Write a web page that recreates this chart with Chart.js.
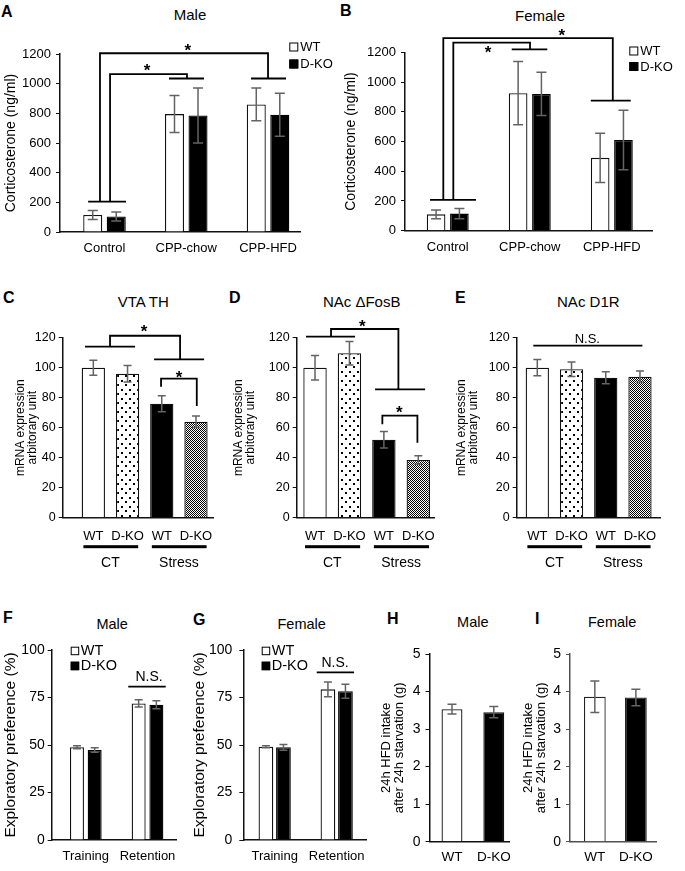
<!DOCTYPE html>
<html><head><meta charset="utf-8">
<script src="https://cdn.jsdelivr.net/npm/chart.js@4.4.1/dist/chart.umd.min.js"></script>
<style>
html,body{margin:0;padding:0;background:#fff}
body{position:relative;width:685px;height:871px;overflow:hidden;font-family:"Liberation Sans",Arial,sans-serif;color:#000}
canvas{position:absolute}
.ttl{position:absolute;transform:translateX(-50%);white-space:nowrap;line-height:17px;font-size:15px;font-weight:normal}
.sm{font-size:14.5px}
.lt{position:absolute;font-weight:bold;font-size:16px;line-height:18px}
</style></head><body>
<div class="lt" style="left:1px;top:2.6px">A</div>
<div class="lt" style="left:340px;top:2px">B</div>
<div class="lt" style="left:3px;top:289.3px">C</div>
<div class="lt" style="left:229px;top:289.3px">D</div>
<div class="lt" style="left:455px;top:289.3px">E</div>
<div class="lt" style="left:3px;top:609.3px">F</div>
<div class="lt" style="left:193px;top:611px">G</div>
<div class="lt" style="left:387px;top:610.3px">H</div>
<div class="lt" style="left:535px;top:610.3px">I</div>
<div class="ttl" style="left:190px;top:5.7px">Male</div>
<div class="ttl" style="left:540px;top:7px">Female</div>
<div class="ttl" style="left:143.3px;top:292.7px">VTA TH</div>
<div class="ttl" style="left:361.7px;top:292.7px">NAc ΔFosB</div>
<div class="ttl" style="left:588.3px;top:292.7px">NAc D1R</div>
<div class="ttl sm" style="left:112.2px;top:616.3px">Male</div>
<div class="ttl sm" style="left:301.7px;top:616.3px">Female</div>
<div class="ttl sm" style="left:472.8px;top:614.3px">Male</div>
<div class="ttl sm" style="left:612.2px;top:614.3px">Female</div>
<script>
// ---------- data ----------
const corticoCats = ['Control', 'CPP-chow', 'CPP-HFD'];
const seriesNames = ['WT', 'D-KO'];
const maleWT = [115, 795, 860];
const maleWTErr = [30, 125, 110];
const maleKO = [105, 785, 790];
const maleKOErr = [30, 185, 145];
const femWT = [110, 925, 490];
const femWTErr = [30, 213, 165];
const femKO = [115, 920, 610];
const femKOErr = [35, 145, 200];
const corticoTicksMax = 1200;

const mrnaCats = ['WT', 'D-KO', 'WT', 'D-KO'];
const mrnaGroups = ['CT', 'Stress'];
const thVals = [100, 96, 76, 64];
const thErr = [5, 5.5, 5.3, 3.8];
const fosbVals = [100, 109.6, 52, 38.5];
const fosbErr = [8.2, 7.8, 5.5, 2.8];
const d1rVals = [100, 99, 93.3, 94];
const d1rErr = [5.4, 4.8, 4, 3.8];

const prefCats = ['Training', 'Retention'];
const prefMaleWT = [48.8, 71.9];
const prefMaleWTErr = [0.8, 1.9];
const prefMaleKO = [47.4, 71.2];
const prefMaleKOErr = [1.2, 2.1];
const prefFemWT = [49.1, 79.3];
const prefFemWTErr = [0.5, 3.9];
const prefFemKO = [48.8, 78.3];
const prefFemKOErr = [1.5, 3.7];

const intakeCats = ['WT', 'D-KO'];
const intakeMale = [3.53, 3.45];
const intakeMaleErr = [0.13, 0.15];
const intakeFem = [3.86, 3.84];
const intakeFemErr = [0.42, 0.22];

// ---------- helpers ----------
const FONT = '"Liberation Sans", Arial, sans-serif';
const pts = vals => vals.map((v, i) => ({x: i + 1, y: v}));

function makePattern(kind) {
  const c = document.createElement('canvas');
  const g = c.getContext('2d');
  if (kind === 'dots') {
    c.width = 8; c.height = 9;
    g.fillStyle = '#fff'; g.fillRect(0, 0, 8, 9);
    g.fillStyle = '#000'; g.fillRect(1, 1, 2, 2); g.fillRect(5, 5, 2, 2);
  } else {
    c.width = 2; c.height = 2;
    g.fillStyle = '#fff'; g.fillRect(0, 0, 2, 2);
    g.fillStyle = '#000'; g.fillRect(0, 0, 1, 1); g.fillRect(1, 1, 1, 1);
  }
  return g.createPattern(c, 'repeat');
}
const dotPat = makePattern('dots');
const checkPat = makePattern('check');

const errorBars = {
  id: 'errorBars',
  afterDatasetsDraw(chart, args, o) {
    const ctx = chart.ctx, Y = chart.scales.y;
    ctx.save();
    ctx.strokeStyle = o.color || '#636363';
    ctx.lineWidth = o.width || 1.5;
    chart.data.datasets.forEach((ds, di) => {
      if (!ds.errors) return;
      chart.getDatasetMeta(di).data.forEach((el, i) => {
        const v = ds.data[i].y, e = ds.errors[i];
        const x = el.x, t = Y.getPixelForValue(v + e), b = Y.getPixelForValue(v - e);
        const h = (o.cap || 8) / 2;
        ctx.beginPath();
        ctx.moveTo(x, t); ctx.lineTo(x, b);
        ctx.moveTo(x - h, t); ctx.lineTo(x + h, t);
        ctx.moveTo(x - h, b); ctx.lineTo(x + h, b);
        ctx.stroke();
      });
    });
    ctx.restore();
  }
};

const sig = {
  id: 'sig',
  afterDatasetsDraw(chart, args, o) {
    const X = chart.scales.x, Y = chart.scales.y, ctx = chart.ctx;
    ctx.save();
    ctx.strokeStyle = '#000';
    ctx.lineWidth = o.lw || 1.8;
    ctx.lineJoin = 'miter'; ctx.lineCap = 'butt';
    (o.lines || []).forEach(p => {
      ctx.beginPath();
      p.forEach(([a, b], k) => {
        const px = X.getPixelForValue(a), py = Y.getPixelForValue(b);
        if (k) ctx.lineTo(px, py); else ctx.moveTo(px, py);
      });
      ctx.stroke();
    });
    (o.marks || []).forEach(m => {
      ctx.font = m.font;
      ctx.fillStyle = '#000';
      ctx.textAlign = 'center';
      ctx.textBaseline = 'middle';
      ctx.fillText(m.text, X.getPixelForValue(m.x), Y.getPixelForValue(m.y) + (m.dy || 0));
    });
    ctx.restore();
  }
};

const boxLegend = {
  id: 'boxLegend',
  afterDraw(chart, args, o) {
    if (o.x === undefined) return;
    const ctx = chart.ctx;
    ctx.save();
    chart.data.datasets.forEach((ds, i) => {
      const bx = o.x, by = o.y + i * o.row;
      ctx.fillStyle = ds.backgroundColor;
      ctx.fillRect(bx, by, o.box, o.box);
      ctx.strokeStyle = '#000'; ctx.lineWidth = 1;
      ctx.strokeRect(bx + 0.5, by + 0.5, o.box - 1, o.box - 1);
      ctx.fillStyle = '#000';
      ctx.font = o.font;
      ctx.textBaseline = 'middle'; ctx.textAlign = 'left';
      ctx.fillText(ds.label, bx + o.box + o.gap, by + o.box / 2 + 0.5);
    });
    ctx.restore();
  }
};

const groupAxis = {
  id: 'groupAxis',
  afterDraw(chart, args, o) {
    if (!o.groups) return;
    const X = chart.scales.x, ctx = chart.ctx, B = chart.chartArea.bottom;
    ctx.save();
    o.groups.forEach(g => {
      const a = X.getPixelForValue(g.from - o.ext[0]);
      const b = X.getPixelForValue(g.to + o.ext[1]);
      ctx.fillStyle = '#000';
      ctx.fillRect(a, B + o.lineOff, b - a, o.lineW);
      ctx.font = o.font;
      ctx.textAlign = 'center'; ctx.textBaseline = 'middle';
      ctx.fillText(g.label, (X.getPixelForValue(g.from) + X.getPixelForValue(g.to)) / 2, B + o.labelOff);
    });
    ctx.restore();
  }
};

function build(P) {
  const [cx, cy, cw, ch] = P.rect;
  const lh = P.yTitle.size * P.yTitle.lh;
  const padLeft = P.yTitle.x - cx - lh / 2;
  const yW = P.area.L - cx - padLeft;
  const padTop = P.area.T - cy;
  const padRight = cx + cw - P.area.R;
  const xH = cy + ch - P.area.B;
  const cv = document.createElement('canvas');
  cv.width = cw; cv.height = ch;
  cv.style.left = cx + 'px'; cv.style.top = cy + 'px';
  cv.style.width = cw + 'px'; cv.style.height = ch + 'px';
  document.body.appendChild(cv);
  const f = (s, w) => ({family: FONT, size: s, weight: w || 'normal', lineHeight: 1.2});
  const axisColor = P.axisColor || '#111';
  const legendOpt = P.legend ? Object.assign({}, P.legend, {x: P.legend.px - cx, y: P.legend.py - cy}) : {};
  new Chart(cv, {
    type: 'bar',
    data: {datasets: P.datasets},
    options: {
      responsive: false, animation: false, events: [],
      layout: {padding: {left: padLeft, top: padTop, right: padRight, bottom: 0}},
      scales: {
        x: {
          type: 'linear', min: P.xMin, max: P.xMax, bounds: 'data', offset: false,
          afterBuildTicks: ax => { ax.ticks = P.cats.map((c, i) => ({value: i + 1})); },
          ticks: {autoSkip: false, maxRotation: 0, minRotation: 0, padding: P.xPad,
                  font: f(P.xSize), color: '#000',
                  callback: v => P.cats[Math.round(v) - 1]},
          grid: {display: false, drawTicks: false, tickLength: 0},
          border: {display: true, color: axisColor, width: 1.5},
          afterFit: s => { s.height = xH; }
        },
        y: {
          type: 'linear', min: 0, max: P.yMax, bounds: 'data',
          ticks: {stepSize: P.yStep, padding: P.yPad, font: f(P.yTickSize), color: '#000',
                  callback: v => String(v)},
          grid: {display: true, drawOnChartArea: false, drawTicks: true, tickLength: 4, color: axisColor, lineWidth: 1},
          border: {display: true, color: axisColor, width: 1.5},
          title: {display: true, text: P.yTitle.text, color: '#000', padding: 0,
                  font: {family: FONT, size: P.yTitle.size, lineHeight: P.yTitle.lh}},
          afterFit: s => { s.width = yW; }
        }
      },
      plugins: {
        legend: {display: false}, tooltip: {enabled: false}, title: {display: false},
        errorBars: {cap: P.cap, color: '#636363', width: 1.5},
        sig: P.sig || {},
        boxLegend: legendOpt,
        groupAxis: P.groups || {}
      }
    },
    plugins: [errorBars, sig, boxLegend, groupAxis]
  });
}

function pairSets(wt, wtE, ko, koE, cp, bp) {
  return [
    {label: seriesNames[0], data: pts(wt), errors: wtE, backgroundColor: '#fff', borderColor: '#111', borderWidth: 1.3, categoryPercentage: cp, barPercentage: bp},
    {label: seriesNames[1], data: pts(ko), errors: koE, backgroundColor: '#000', borderColor: '#000', borderWidth: 1.3, categoryPercentage: cp, barPercentage: bp}
  ];
}
function quadSet(vals, errs) {
  return [{label: 'mRNA', data: pts(vals), errors: errs,
    backgroundColor: ['#fff', dotPat, '#000', checkPat], borderColor: '#111', borderWidth: 1.3,
    categoryPercentage: 1, barPercentage: 0.68}];
}
const STAR = 'bold 17px ' + FONT;
const mrnaGroupOpt = {
  groups: [{from: 1, to: 2, label: mrnaGroups[0]}, {from: 3, to: 4, label: mrnaGroups[1]}],
  ext: [0.29, 0.31], lineOff: 27.5, lineW: 3, labelOff: 45.5, font: '14px ' + FONT
};

// ---------- A ----------
build({
  rect: [0, 0, 340, 275], area: {L: 60, R: 300, T: 54, B: 232},
  yTitle: {text: 'Corticosterone (ng/ml)', size: 14, lh: 1.2, x: 11.5},
  cats: corticoCats, xMin: 0.456, xMax: 3.391, xPad: 9, xSize: 13,
  yMax: corticoTicksMax, yStep: 200, yPad: 5, yTickSize: 13, cap: 10,
  datasets: pairSets(maleWT, maleWTErr, maleKO, maleKOErr, 0.575, 0.81),
  legend: {px: 289.3, py: 42.5, box: 9, row: 17, gap: 2, font: '13px ' + FONT},
  sig: {lines: [
    [[0.80, 205], [1.263, 205]],
    [[0.945, 205], [0.945, 1205], [3.0, 1205], [3.0, 1035]],
    [[1.068, 205], [1.068, 1065], [2.009, 1065], [2.009, 1035]],
    [[1.789, 1035], [2.217, 1035]],
    [[2.792, 1035], [3.22, 1035]]
  ], marks: [
    {text: '*', x: 1.52, y: 1112, font: STAR, dy: 4},
    {text: '*', x: 2.02, y: 1247, font: STAR, dy: 4}
  ]}
});

// ---------- B ----------
build({
  rect: [340, 0, 345, 275], area: {L: 405, R: 652, T: 52.3, B: 230.7},
  yTitle: {text: 'Corticosterone (ng/ml)', size: 14, lh: 1.2, x: 351.5},
  cats: corticoCats, xMin: 0.479, xMax: 3.49, xPad: 9, xSize: 13,
  yMax: corticoTicksMax, yStep: 200, yPad: 5, yTickSize: 13, cap: 10,
  datasets: pairSets(femWT, femWTErr, femKO, femKOErr, 0.568, 0.80),
  legend: {px: 629.3, py: 46.5, box: 9, row: 15.5, gap: 2, font: '13px ' + FONT},
  sig: {lines: [
    [[0.784, 207], [1.345, 207]],
    [[0.946, 207], [0.946, 1295], [3.012, 1295], [3.012, 875]],
    [[1.068, 207], [1.068, 1265], [2.003, 1265], [2.003, 1220]],
    [[1.78, 1220], [2.214, 1220]],
    [[2.744, 875], [3.231, 875]]
  ], marks: [
    {text: '*', x: 1.491, y: 1221, font: STAR, dy: 4},
    {text: '*', x: 2.39, y: 1335, font: STAR, dy: 4}
  ]}
});

// ---------- C ----------
build({
  rect: [0, 280, 228, 305], area: {L: 62.7, R: 213.3, T: 337.7, B: 517.7},
  yTitle: {text: ['mRNA expression', 'arbitorary unit'], size: 12, lh: 1.0, x: 20.5},
  cats: mrnaCats, xMin: 0.105, xMax: 4.506, xPad: 11, xSize: 13,
  yMax: 120, yStep: 20, yPad: 3, yTickSize: 12.5, cap: 8,
  datasets: quadSet(thVals, thErr),
  groups: mrnaGroupOpt,
  sig: {lines: [
    [[0.757, 114], [2.219, 114]],
    [[1.488, 114], [1.488, 121.3], [3.535, 121.3], [3.535, 105.6]],
    [[2.775, 105.6], [4.237, 105.6]],
    [[2.979, 87.3], [2.979, 92.7], [4.023, 92.7], [4.023, 74.5]]
  ], marks: [
    {text: '*', x: 2.482, y: 126.3, font: STAR, dy: 4},
    {text: '*', x: 3.505, y: 95.6, font: STAR, dy: 4}
  ]}
});

// ---------- D ----------
build({
  rect: [228, 280, 228, 305], area: {L: 296.7, R: 434, T: 337.7, B: 517.7},
  yTitle: {text: ['mRNA expression', 'arbitorary unit'], size: 12, lh: 1.0, x: 238.5},
  cats: mrnaCats, xMin: 0.468, xMax: 4.456, xPad: 11, xSize: 13,
  yMax: 120, yStep: 20, yPad: 3, yTickSize: 12.5, cap: 8,
  datasets: quadSet(fosbVals, fosbErr),
  groups: mrnaGroupOpt,
  sig: {lines: [
    [[0.738, 120.7], [2.163, 120.7]],
    [[1.465, 120.7], [1.465, 125.8], [3.422, 125.8], [3.422, 85.6]],
    [[2.744, 85.6], [4.198, 85.6]],
    [[2.956, 62.3], [2.956, 68], [3.974, 68], [3.974, 50]]
  ], marks: [
    {text: '*', x: 2.375, y: 129.6, font: STAR, dy: 4},
    {text: '*', x: 3.451, y: 72, font: STAR, dy: 4}
  ]}
});

// ---------- E ----------
build({
  rect: [452, 280, 233, 305], area: {L: 516.7, R: 660, T: 337.7, B: 517.7},
  yTitle: {text: ['mRNA expression', 'arbitorary unit'], size: 12, lh: 1.0, x: 462},
  cats: mrnaCats, xMin: 0.398, xMax: 4.585, xPad: 11, xSize: 13,
  yMax: 120, yStep: 20, yPad: 3, yTickSize: 12.5, cap: 8,
  datasets: quadSet(d1rVals, d1rErr),
  groups: mrnaGroupOpt,
  sig: {lines: [
    [[0.883, 114.7], [4.07, 114.7]]
  ], marks: [
    {text: 'N.S.', x: 2.462, y: 118.9, font: '13px ' + FONT}
  ]}
});

// ---------- F ----------
build({
  rect: [0, 590, 190, 281], area: {L: 51.7, R: 176.7, T: 650, B: 840},
  yTitle: {text: 'Exploratory preference (%)', size: 15.5, lh: 1.2, x: 10.8},
  cats: prefCats, xMin: 0.447, xMax: 2.473, xPad: 9, xSize: 13,
  yMax: 100, yStep: 25, yPad: 3, yTickSize: 14, cap: 8,
  datasets: pairSets(prefMaleWT, prefMaleWTErr, prefMaleKO, prefMaleKOErr, 0.574, 0.79),
  legend: {px: 70.7, py: 646.7, box: 8.5, row: 15, gap: 1.5, font: '14.5px ' + FONT},
  sig: {lines: [
    [[1.688, 80.7], [2.295, 80.7]]
  ], marks: [
    {text: 'N.S.', x: 2.024, y: 85.6, font: '14px ' + FONT}
  ]}
});

// ---------- G ----------
build({
  rect: [190, 590, 190, 281], area: {L: 243.3, R: 366.7, T: 650, B: 840},
  yTitle: {text: 'Exploratory preference (%)', size: 15.5, lh: 1.2, x: 200},
  cats: prefCats, xMin: 0.494, xMax: 2.484, xPad: 9, xSize: 13,
  yMax: 100, yStep: 25, yPad: 7, yTickSize: 14, cap: 8,
  datasets: pairSets(prefFemWT, prefFemWTErr, prefFemKO, prefFemKOErr, 0.565, 0.84),
  legend: {px: 261.7, py: 646.7, box: 8.5, row: 15, gap: 1.5, font: '14.5px ' + FONT},
  sig: {lines: [
    [[1.678, 88.2], [2.28, 88.2]]
  ], marks: [
    {text: 'N.S.', x: 1.973, y: 93.3, font: '14px ' + FONT}
  ]}
});

// ---------- H ----------
build({
  rect: [378, 590, 152, 281], area: {L: 429.5, R: 509.3, T: 654, B: 841.7},
  yTitle: {text: ['24h HFD intake', 'after 24h starvation (g)'], size: 13, lh: 1.0, x: 386.7},
  cats: intakeCats, xMin: 0.462, xMax: 2.371, xPad: 7, xSize: 13.5,
  yMax: 5, yStep: 1, yPad: 5, yTickSize: 14, cap: 9,
  datasets: [{label: 'intake', data: pts(intakeMale), errors: intakeMaleErr,
    backgroundColor: ['#fff', '#000'], borderColor: '#111', borderWidth: 1.3,
    categoryPercentage: 1, barPercentage: 0.5}]
});

// ---------- I ----------
build({
  rect: [518, 590, 167, 281], area: {L: 570, R: 656, T: 654, B: 841.7},
  yTitle: {text: ['24h HFD intake', 'after 24h starvation (g)'], size: 13, lh: 1.0, x: 528.3},
  cats: intakeCats, xMin: 0.395, xMax: 2.49, xPad: 7, xSize: 13.5, axisColor: '#505050',
  yMax: 5, yStep: 1, yPad: 5, yTickSize: 14, cap: 9,
  datasets: [{label: 'intake', data: pts(intakeFem), errors: intakeFemErr,
    backgroundColor: ['#fff', '#000'], borderColor: '#222', borderWidth: 1.3,
    categoryPercentage: 1, barPercentage: 0.53}]
});
</script>
</body></html>
